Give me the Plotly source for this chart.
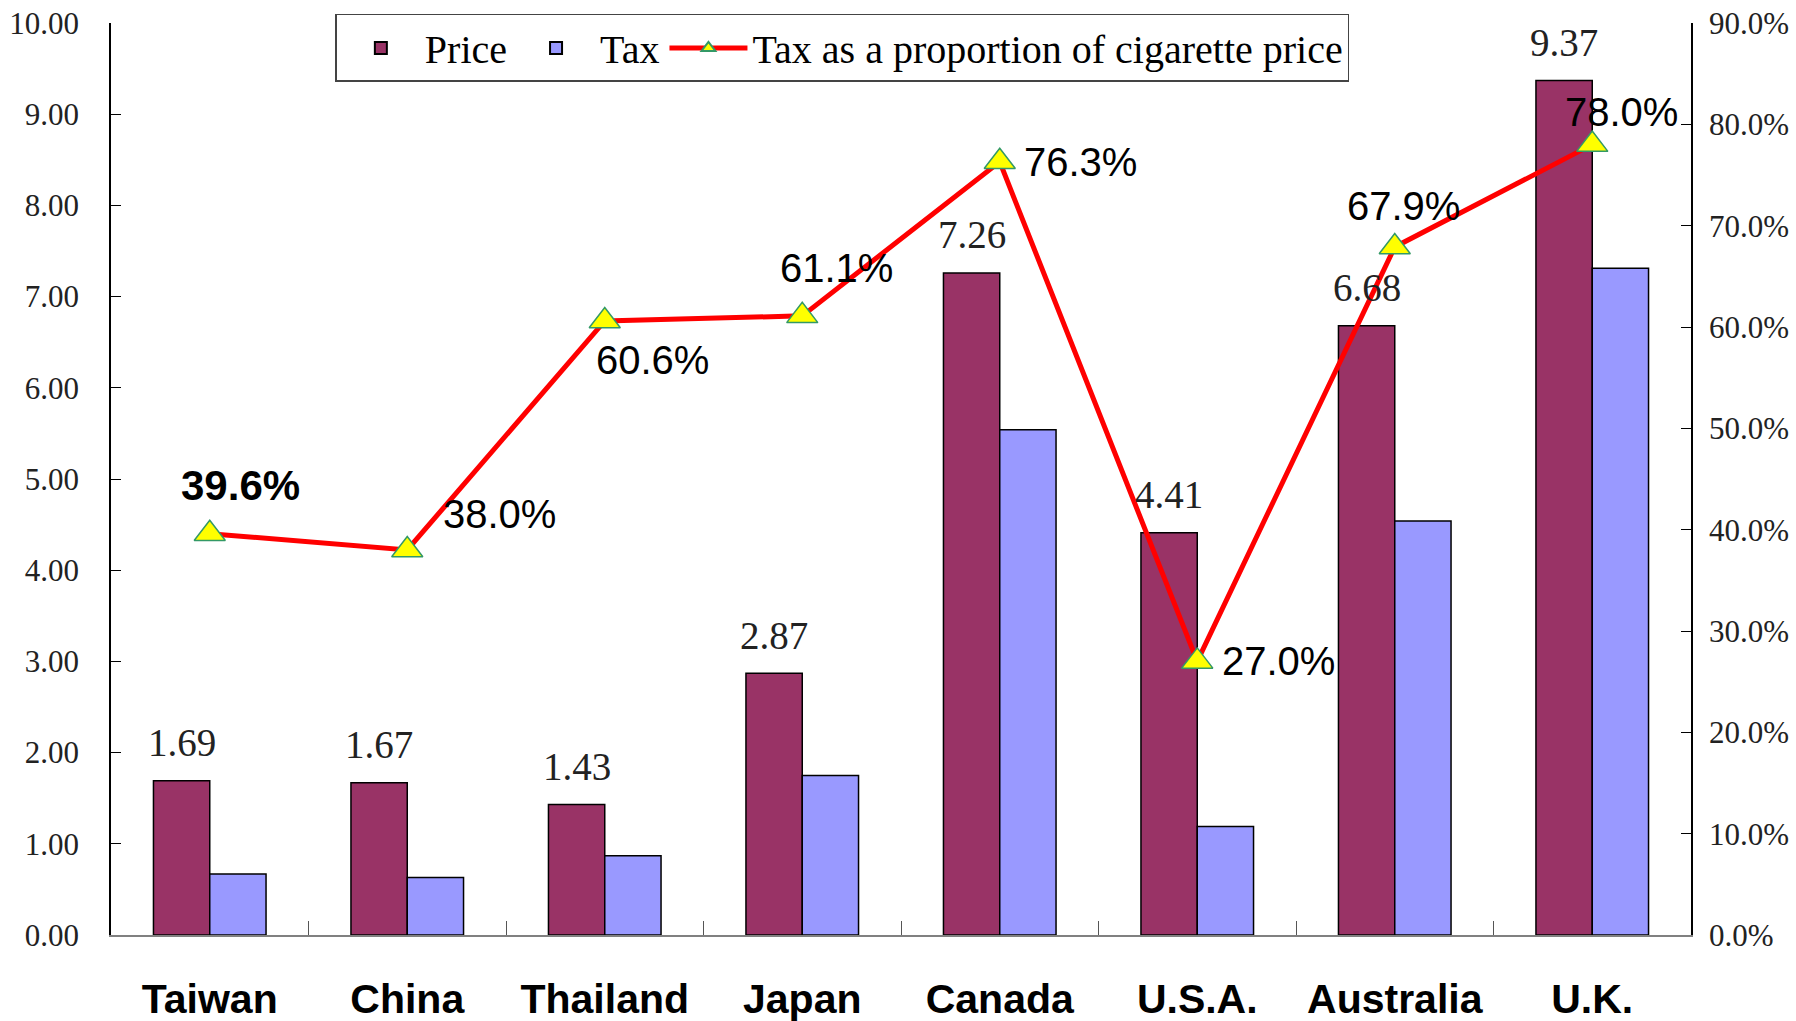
import plotly.graph_objects as go

countries = ["Taiwan", "China", "Thailand", "Japan", "Canada", "U.S.A.", "Australia", "U.K."]
price = [1.69, 1.67, 1.43, 2.87, 7.26, 4.41, 6.68, 9.37]
tax = [0.67, 0.63, 0.87, 1.75, 5.54, 1.19, 4.54, 7.31]
tax_share = [0.396, 0.380, 0.606, 0.611, 0.763, 0.270, 0.679, 0.780]

# label offsets (px) for percentage labels: (xshift, yshift)
pct_offsets = [(31, 48), (92, 36), (48, -39), (34, 48), (81, 0), (81, 0), (9, 41), (29, 33)]

SERIF = "Liberation Serif, Times New Roman, serif"
SANS = "Liberation Sans, Arial, sans-serif"

fig = go.Figure()
fig.add_trace(go.Bar(
    x=countries, y=price, name="Price",
    marker=dict(color="#993366", line=dict(color="black", width=1.5)),
))
fig.add_trace(go.Bar(
    x=countries, y=tax, name="Tax",
    marker=dict(color="#9999FF", line=dict(color="black", width=1.5)),
))
fig.add_trace(go.Scatter(
    x=countries, y=tax_share, name="Tax as a proportion of cigarette price",
    yaxis="y2", mode="lines+markers",
    line=dict(color="#FF0000", width=5),
    marker=dict(symbol="triangle-up", size=27, color="#FFFF00",
                line=dict(color="#339966", width=1.5)),
    cliponaxis=False,
))

annotations = []
for c, p in zip(countries, price):
    annotations.append(dict(
        x=c, y=p, xref="x", yref="y", text=f"{p:.2f}", showarrow=False,
        xshift=-28, yshift=38, yanchor="middle",
        font=dict(family=SERIF, size=39, color="#222222"),
    ))
for i, (c, s) in enumerate(zip(countries, tax_share)):
    dx, dy = pct_offsets[i]
    label = f"{s*100:.1f}%"
    if i == 0:
        label = f"<b>{label}</b>"
    annotations.append(dict(
        x=c, y=s, xref="x", yref="y2", text=label, showarrow=False,
        xshift=dx, yshift=dy, yanchor="middle",
        font=dict(family=SANS, size=42 if i == 0 else 40, color="black"),
    ))

fig.update_layout(
    width=1796, height=1021,
    margin=dict(l=111, r=105, t=23, b=86),
    paper_bgcolor="white", plot_bgcolor="white",
    barmode="group", bargap=0.43, bargroupgap=0,
    showlegend=True,
    legend=dict(
        orientation="h", x=0.142, xanchor="left", y=1.01, yanchor="top",
        bordercolor="#444444", borderwidth=1.5, bgcolor="white",
        font=dict(family=SERIF, size=40, color="black"),
        itemsizing="constant", itemwidth=78,
    ),
    xaxis=dict(
        showline=True, linecolor="#808080", linewidth=2,
        ticks="inside", tickson="boundaries", ticklen=14, tickcolor="#555555",
        tickfont=dict(family=SANS, size=41, color="black", weight="bold"),
        ticklabelstandoff=27,
        showgrid=False, zeroline=False, automargin=False,
    ),
    yaxis=dict(
        range=[0, 10], dtick=1, tickformat=".2f",
        showline=True, linecolor="black", linewidth=1.5,
        ticks="inside", ticklen=10, tickcolor="black",
        tickfont=dict(family=SERIF, size=31, color="#222222"),
        ticklabelstandoff=24,
        showgrid=False, zeroline=False, automargin=False,
    ),
    yaxis2=dict(
        range=[0, 0.9], dtick=0.1, tickformat=".1%",
        overlaying="y", side="right",
        showline=True, linecolor="black", linewidth=1.5,
        ticks="inside", ticklen=10, tickcolor="black",
        tickfont=dict(family=SERIF, size=31, color="#222222"),
        ticklabelstandoff=10,
        showgrid=False, zeroline=False, automargin=False,
    ),
    annotations=annotations,
)

fig.write_html(
    "out.html",
    config={"displayModeBar": False},
    post_script="document.body.style.margin='0';document.body.style.overflow='hidden';",
)
